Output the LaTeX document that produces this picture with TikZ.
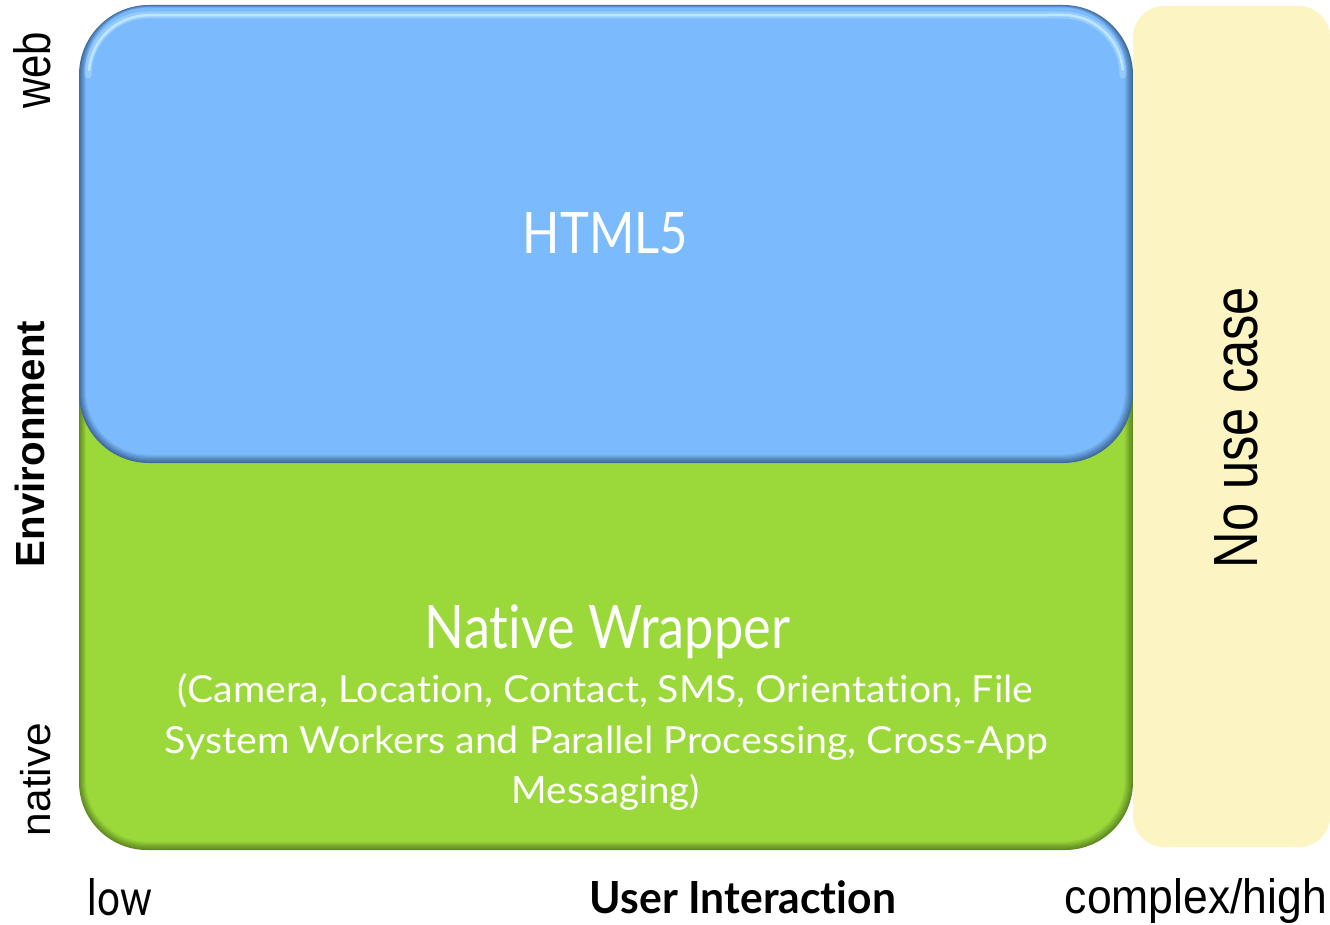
\documentclass[tikz,border=0pt]{standalone}
\usepackage{fontspec}
\usepackage{graphicx}
\setmainfont{Liberation Sans}
\newfontfamily\humanist{Lato}[Ligatures=NoCommon]

\definecolor{webblue}{HTML}{7BBBFD}
\definecolor{webedge}{HTML}{3F6A9C}
\definecolor{webshine}{HTML}{D4F4FF}
\definecolor{nativegreen}{HTML}{9BD93B}
\definecolor{nativeedge}{HTML}{5F8A22}
\definecolor{nousefill}{HTML}{FCF5C3}

% rounded panel with a soft bevel: darker rim fading into the face colour
% #1 x1, #2 y1, #3 x2, #4 y2, #5 corner radius, #6 face colour, #7 rim colour
\newcommand\bevelpanel[7]{%
  \foreach \k in {0,...,7}{%
    \pgfmathtruncatemacro\mixpct{\k*100/7}%
    \pgfmathtruncatemacro\cornerrad{#5-\k}%
    \fill[#6!\mixpct!#7, rounded corners=\cornerrad pt]
      ({#1+\k},{#2+0.4*\k}) rectangle ({#3-1.2*\k},{#4-1.2*\k});
  }%
}

\tikzset{
  lbl/.style={inner sep=0pt, outer sep=0pt, anchor=base},
  axislbl/.style={lbl, text=black},
  boxlbl/.style={lbl, text=white, font=\humanist},
}

\begin{document}
\begin{tikzpicture}[x=1pt, y=-1pt]
\useasboundingbox (0,0) rectangle (1330,925);

% native panel (partly hidden under the web panel)
\bevelpanel{79}{300}{1133}{850}{68}{nativegreen}{nativeedge}
% web panel
\bevelpanel{79}{5}{1133}{463}{70}{webblue}{webedge}
% light sheen along the top rim of the web panel
\draw[webshine, line width=7pt, opacity=0.30, line cap=round]
  (88,75) arc[start angle=180, end angle=270, radius=60]
  -- (1063,15) arc[start angle=270, end angle=360, radius=60];
\draw[webshine, line width=2.5pt, opacity=0.65, line cap=round]
  (89,70) arc[start angle=185, end angle=270, radius=60]
  -- (1063,15) arc[start angle=270, end angle=355, radius=60];

% "no use case" column
\fill[nousefill, rounded corners=31pt] (1133,6) rectangle (1330,847);

% panel texts
\node[boxlbl] (html) at (605.5,254)
  {\resizebox{165pt}{41pt}{\smash{HTML5}\vphantom{H}}};
\node[boxlbl] (wrap) at (607.5,648)
  {\resizebox{365pt}{43pt}{\smash{Native Wrapper}\vphantom{N}}};
\node[boxlbl] (wrapA) at (605.5,702)
  {\resizebox{855pt}{27pt}{\smash{(Camera, Location, Contact, SMS, Orientation, File}\vphantom{C}}};
\node[boxlbl] (wrapB) at (606.5,753)
  {\resizebox{883pt}{27pt}{\smash{System Workers and Parallel Processing, Cross-App}\vphantom{S}}};
\node[boxlbl] (wrapC) at (606,803)
  {\resizebox{188pt}{27pt}{\smash{Messaging)}\vphantom{M}}};

\node[lbl, rotate=90] (nouse) at (1257,427.5)
  {\resizebox{281pt}{43pt}{\smash{No use case}\vphantom{N}}};

% vertical axis
\node[axislbl, rotate=90] (web) at (50,70.5)
  {\resizebox{77pt}{37pt}{\smash{web}\vphantom{b}}};
\node[axislbl, rotate=90, font=\bfseries] (env) at (44,444)
  {\resizebox{246pt}{28pt}{\smash{Environment}\vphantom{E}}};
\node[axislbl, rotate=90] (nat) at (50,779.5)
  {\resizebox{113pt}{22pt}{\smash{native}\vphantom{x}}};

% horizontal axis
\node[axislbl, font=\humanist] (low) at (120,915)
  {\resizebox{64pt}{37pt}{\smash{low}\vphantom{l}}};
\node[axislbl, font=\humanist\bfseries] (ui) at (743,913)
  {\resizebox{306pt}{32pt}{\smash{User Interaction}\vphantom{U}}};
\node[axislbl] (high) at (1196,913)
  {\resizebox{262pt}{35pt}{\smash{complex/high}\vphantom{h}}};
\end{tikzpicture}
\end{document}
